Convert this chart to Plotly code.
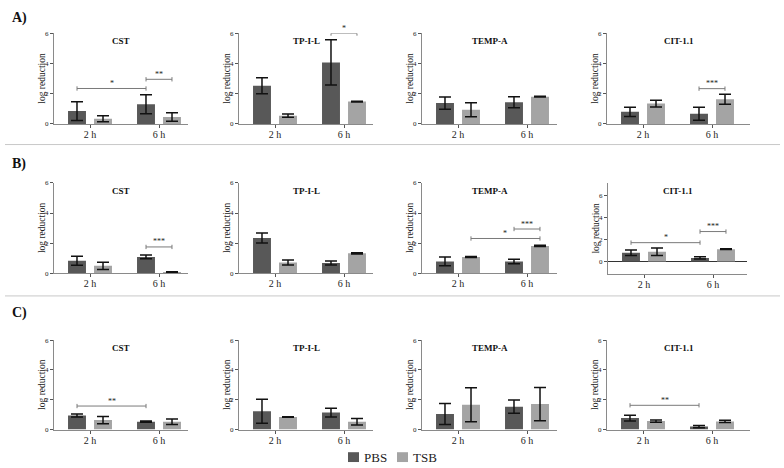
import plotly.graph_objects as go

W, H = 784, 468
timepoints = ["2 h", "6 h"]
strains = ["CST", "TP-I-L", "TEMP-A", "CIT-1.1"]
panel_labels = ["A)", "B)", "C)"]
series_names = ["PBS", "TSB"]
colors = ["#585858", "#a4a4a4"]

# mean log reduction [strain][timepoint] and SD
pbs_mean_A = [[0.85, 1.30], [2.53, 4.08], [1.38, 1.44], [0.80, 0.68]]
pbs_err_A = [[0.62, 0.63], [0.53, 1.50], [0.40, 0.36], [0.31, 0.43]]
tsb_mean_A = [[0.35, 0.46], [0.55, 1.48], [0.94, 1.81], [1.35, 1.64]]
tsb_err_A = [[0.20, 0.28], [0.10, 0.03], [0.46, 0.02], [0.22, 0.33]]

pbs_mean_B = [[0.83, 1.09], [2.34, 0.68], [0.79, 0.79], [0.80, 0.33]]
pbs_err_B = [[0.30, 0.12], [0.33, 0.13], [0.29, 0.15], [0.25, 0.10]]
tsb_mean_B = [[0.50, 0.09], [0.72, 1.33], [1.08, 1.82], [0.89, 1.13]]
tsb_err_B = [[0.24, 0.02], [0.16, 0.04], [0.03, 0.04], [0.35, 0.04]]

pbs_mean_C = [[0.95, 0.53], [1.23, 1.14], [1.05, 1.54], [0.77, 0.20]]
pbs_err_C = [[0.10, 0.04], [0.80, 0.30], [0.70, 0.44], [0.20, 0.07]]
tsb_mean_C = [[0.64, 0.53], [0.84, 0.53], [1.67, 1.71], [0.57, 0.55]]
tsb_err_C = [[0.24, 0.18], [0.02, 0.22], [1.14, 1.12], [0.08, 0.08]]

means = [[pbs_mean_A, tsb_mean_A], [pbs_mean_B, tsb_mean_B], [pbs_mean_C, tsb_mean_C]]
errs = [[pbs_err_A, tsb_err_A], [pbs_err_B, tsb_err_B], [pbs_err_C, tsb_err_C]]

# significance brackets: (row, col, group0, series0, group1, series1, y, label)
brackets = [
    (0, 0, 0, 0, 1, 0, 2.35, "*"),
    (0, 0, 1, 0, 1, 1, 2.96, "**"),
    (0, 1, 1, 0, 1, 1, 6.0, "*"),
    (0, 3, 1, 0, 1, 1, 2.34, "***"),
    (1, 0, 1, 0, 1, 1, 1.75, "***"),
    (1, 2, 1, 0, 1, 1, 2.94, "***"),
    (1, 2, 0, 1, 1, 1, 2.31, "*"),
    (1, 3, 0, 0, 1, 0, 1.72, "*"),
    (1, 3, 1, 0, 1, 1, 2.73, "***"),
    (2, 0, 0, 0, 1, 0, 1.58, "**"),
    (2, 3, 0, 0, 1, 0, 1.63, "**"),
]

# layout geometry (pixels)
row_top = [30, 182, 342]
row_bot = [122, 274, 433]
col_x0 = [54, 239, 422, 607]
col_x1 = [188, 373, 557, 750]
cat_px = 69.0
first_px = 36.0
bar_off = 0.188
SERIF = "Liberation Serif"

fig = go.Figure()
shapes = []
annotations = []

def px2x(p):
    return p / W

def px2y(p):
    return 1 - p / H

for r in range(3):
    for c in range(4):
        k = r * 4 + c + 1
        xa = "x" if k == 1 else f"x{k}"
        ya = "y" if k == 1 else f"y{k}"
        xl = "xaxis" if k == 1 else f"xaxis{k}"
        yl = "yaxis" if k == 1 else f"yaxis{k}"
        for s in range(2):
            fig.add_trace(go.Bar(
                x=timepoints, y=means[r][s][c], name=series_names[s],
                marker=dict(color=colors[s], line=dict(width=0)),
                error_y=dict(type="data", array=errs[r][s][c], color="#111111",
                             thickness=1.5, width=6),
                xaxis=xa, yaxis=ya, showlegend=False,
            ))
        x0, x1 = col_x0[c], col_x1[c]
        if r == 1 and c == 3:
            x0, x1 = 608, 747
        top, bot = row_top[r], row_bot[r]
        if r == 1 and c == 3:
            yr = [-1.16, 7.16]
            bot = 275
        else:
            yr = [0, 6]
        xr = [-first_px / cat_px, (x1 - x0 - first_px) / cat_px]
        fig.layout[xl] = dict(
            domain=[px2x(x0), px2x(x1)], anchor=ya, type="category",
            range=xr, showline=True, linecolor="#8a8a8a", linewidth=1,
            ticks="outside", ticklen=3, tickcolor="#555555", ticklabelstandoff=-2,
            tickfont=dict(family=SERIF, size=10, color="#222222"),
            showgrid=False, zeroline=False, fixedrange=True,
        )
        fig.layout[yl] = dict(
            domain=[px2y(bot), px2y(top)], anchor=xa, range=yr,
            tickvals=[0, 2, 4, 6], showline=True, linecolor="#8a8a8a", linewidth=1,
            ticks="outside", ticklen=3, tickcolor="#555555",
            tickfont=dict(family=SERIF, size=7, color="#222222"),
            showgrid=False, zeroline=(r == 1 and c == 3), zerolinecolor="#333333",
            zerolinewidth=1.2, fixedrange=True,
        )
        # subplot title
        annotations.append(dict(
            x=px2x((x0 + x1) / 2), y=px2y(top + 8), xref="paper", yref="paper",
            xanchor="center", yanchor="middle",
            text="<b>" + strains[c] + "</b>", showarrow=False,
            font=dict(family=SERIF, size=9, color="#111111"),
        ))
        # y axis title
        annotations.append(dict(
            x=px2x(x0 - 12), y=px2y((top + bot) / 2), xref="paper", yref="paper",
            xanchor="center", yanchor="middle",
            text="log reduction", textangle=-90, showarrow=False,
            font=dict(family=SERIF, size=9.5, color="#222222"),
        ))

# brackets
for (r, c, g0, s0, g1, s1, yv, lab) in brackets:
    k = r * 4 + c + 1
    xa = "x" if k == 1 else f"x{k}"
    ya = "y" if k == 1 else f"y{k}"
    xs = g0 + (-bar_off if s0 == 0 else bar_off)
    xe = g1 + (-bar_off if s1 == 0 else bar_off)
    upp = 11.2 if (r == 1 and c == 3) else 15.3
    tk = 2.2 / upp
    line = dict(color="#7a7a7a", width=1)
    shapes.append(dict(type="line", xref=xa, yref=ya, x0=xs, x1=xe, y0=yv, y1=yv, line=line))
    shapes.append(dict(type="line", xref=xa, yref=ya, x0=xs, x1=xs, y0=yv - tk, y1=yv + tk, line=line))
    shapes.append(dict(type="line", xref=xa, yref=ya, x0=xe, x1=xe, y0=yv - tk, y1=yv + tk, line=line))
    annotations.append(dict(
        x=(xs + xe) / 2, y=yv, xref=xa, yref=ya, text=lab, showarrow=False,
        xanchor="center", yanchor="middle",
        yshift=5, font=dict(family=SERIF, size=8, color="#222222"),
    ))

# separators
for yp in [143, 297]:
    shapes.append(dict(type="line", xref="paper", yref="paper", x0=px2x(5), x1=px2x(780),
                       y0=px2y(yp), y1=px2y(yp), line=dict(color="#c8c8c8", width=1)))

# panel labels
for lab, yp in zip(panel_labels, [14, 163, 314]):
    annotations.append(dict(
        x=px2x(10), y=px2y(yp), xref="paper", yref="paper", xanchor="left", yanchor="middle",
        text="<b>" + lab + "</b>", showarrow=False,
        font=dict(family=SERIF, size=14, color="#111111"),
    ))

# manual legend
leg_x = [348, 397]
for s in range(2):
    lx = leg_x[s]
    shapes.append(dict(type="rect", xref="paper", yref="paper",
                       x0=px2x(lx), x1=px2x(lx + 11), y0=px2y(466), y1=px2y(456),
                       fillcolor=colors[s], line=dict(width=0)))
    annotations.append(dict(
        x=px2x(lx + 14), y=px2y(461), xref="paper", yref="paper", xanchor="left",
        yanchor="middle", text=series_names[s], showarrow=False,
        font=dict(family=SERIF, size=13, color="#222222"),
    ))

fig.update_layout(
    width=W, height=H, margin=dict(l=0, r=0, t=0, b=0),
    paper_bgcolor="white", plot_bgcolor="white",
    barmode="group", bargap=0.246, bargroupgap=0.31,
    shapes=shapes, annotations=annotations, showlegend=False,
)

fig.write_html("out.html", config={"displayModeBar": False},
               post_script="document.body.style.margin='0';")
